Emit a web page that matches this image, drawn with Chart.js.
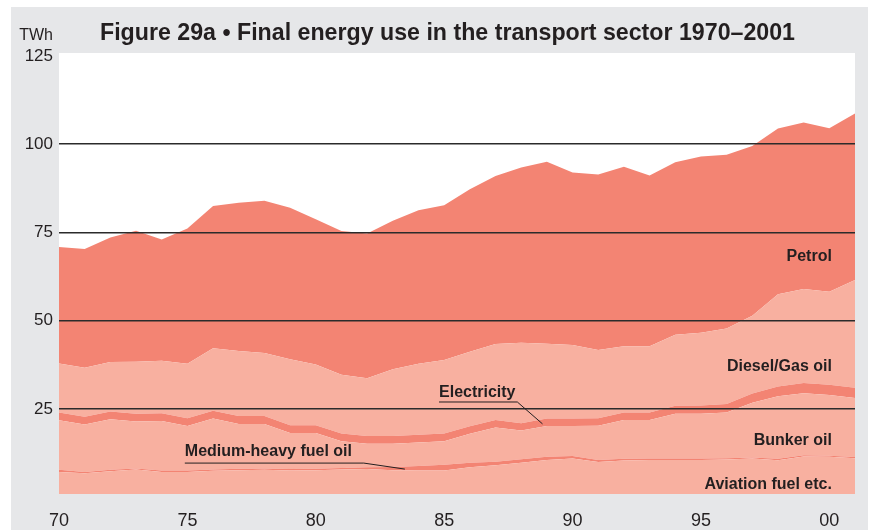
<!DOCTYPE html>
<html lang="en">
<head>
  <meta charset="UTF-8">
  <title>Final energy use in the transport sector 1970–2001</title>
  <script src="https://cdn.jsdelivr.net/npm/chart.js"></script>
  <style>
    body { margin: 0; background: #fff; font-family: "Liberation Sans", Arial, sans-serif; }
    .panel { position: absolute; left: 11px; top: 7px; width: 857px; height: 523px; background: #e6e7e9; }
  </style>
</head>
<body>
  <div class="panel"><canvas id="transportChart" width="857" height="523"></canvas></div>
  <script>
    // TWh per year, stacked bottom to top
    const years = [1970, 1971, 1972, 1973, 1974, 1975, 1976, 1977, 1978, 1979, 1980,
                   1981, 1982, 1983, 1984, 1985, 1986, 1987, 1988, 1989, 1990,
                   1991, 1992, 1993, 1994, 1995, 1996, 1997, 1998, 1999, 2000, 2001];
    const aviation = [7.2, 6.8, 7.4, 7.9, 7.2, 7.2, 7.5, 7.7, 7.8, 7.6, 7.7,
                      7.9, 8.0, 7.7, 7.6, 7.6, 8.5, 9.1, 9.8, 10.6, 11.0,
                      10.0, 10.4, 10.6, 10.6, 10.6, 10.7, 11.0, 10.5, 11.6, 11.5, 11.1];
    const fuelOil = [0.6, 0.4, 0.4, 0.3, 0.4, 0.4, 0.4, 0.4, 0.4, 0.4, 0.4,
                     0.4, 0.5, 0.9, 1.3, 1.6, 1.3, 1.0, 1.0, 0.9, 0.7,
                     0.6, 0.5, 0.4, 0.4, 0.4, 0.4, 0.3, 0.4, 0.3, 0.3, 0.3];
    const bunker = [14.0, 13.4, 14.3, 13.3, 14.0, 12.6, 14.4, 12.7, 12.6, 10.2, 10.1,
                    7.6, 6.7, 6.6, 6.6, 6.7, 8.2, 9.7, 8.1, 8.7, 8.5,
                    9.7, 11.0, 10.9, 12.7, 12.7, 12.9, 15.5, 17.7, 17.6, 17.2, 16.7];
    const electricity = [2.2, 2.2, 2.2, 2.2, 2.2, 2.2, 2.2, 2.2, 2.2, 2.2, 2.2,
                         2.2, 2.2, 2.2, 2.2, 2.2, 2.1, 2.1, 2.1, 2.1, 2.1,
                         2.1, 2.1, 2.1, 2.2, 2.3, 2.4, 2.6, 2.8, 2.9, 2.9, 2.9];
    const diesel = [13.9, 13.9, 14.0, 14.7, 14.9, 15.4, 17.7, 18.4, 17.9, 18.7, 17.2,
                    16.6, 16.3, 18.9, 20.1, 20.8, 21.1, 21.5, 22.8, 21.2, 20.8,
                    19.3, 18.8, 18.8, 20.1, 20.6, 21.4, 22.0, 26.1, 26.6, 26.3, 30.5];
    const petrol = [33.0, 33.6, 35.3, 37.1, 34.3, 38.3, 40.3, 42.0, 43.1, 42.9, 41.1,
                    40.7, 41.0, 42.0, 43.5, 43.8, 46.0, 47.6, 49.6, 51.5, 48.9,
                    49.7, 50.8, 48.3, 48.9, 49.9, 49.2, 48.1, 46.9, 47.1, 46.3, 47.2];

    const yTicks = [25, 50, 75, 100, 125];
    const xTicks = [1970, 1975, 1980, 1985, 1990, 1995, 2000];

    const DARK = '#f38473';
    const LIGHT = '#f8b0a0';
    const INK = '#231f20';

    // label text, anchor year/value, alignment, optional leader line points
    const notes = [
      { text: 'Petrol', x: 2000.1, y: 67.0, align: 'right' },
      { text: 'Diesel/Gas oil', x: 2000.1, y: 35.9, align: 'right' },
      { text: 'Bunker oil', x: 2000.1, y: 14.7, align: 'right' },
      { text: 'Aviation fuel etc.', x: 2000.1, y: 2.4, align: 'right' },
      { text: 'Electricity', x: 1984.8, y: 28.4, align: 'left',
        leader: [[1984.8, 27.0], [1987.85, 27.0], [1988.83, 20.8]] },
      { text: 'Medium-heavy fuel oil', x: 1974.9, y: 11.6, align: 'left',
        leader: [[1974.9, 9.7], [1981.87, 9.7], [1983.47, 8.0]] }
    ];

    const toPoints = arr => years.map((x, i) => ({ x: x, y: arr[i] }));

    const plotBackground = {
      id: 'plotBackground',
      beforeDraw(chart) {
        const { ctx, chartArea: a } = chart;
        ctx.save();
        ctx.fillStyle = '#ffffff';
        ctx.fillRect(a.left, a.top, a.right - a.left, a.bottom - a.top);
        ctx.restore();
      }
    };

    const labels = {
      id: 'labels',
      afterDraw(chart) {
        const { ctx } = chart;
        const xs = chart.scales.x, ys = chart.scales.y;
        ctx.save();
        ctx.fillStyle = INK;
        ctx.textBaseline = 'alphabetic';

        ctx.font = 'bold 23.2px "Liberation Sans", Arial, sans-serif';
        ctx.textAlign = 'left';
        ctx.fillText('Figure 29a • Final energy use in the transport sector 1970–2001', 89, 32.5);

        ctx.font = '16px "Liberation Sans", Arial, sans-serif';
        ctx.textAlign = 'right';
        ctx.fillText('TWh', 42, 33);

        ctx.font = 'bold 16px "Liberation Sans", Arial, sans-serif';
        ctx.strokeStyle = INK;
        ctx.lineWidth = 1;
        notes.forEach(n => {
          ctx.textAlign = n.align;
          ctx.fillText(n.text, xs.getPixelForValue(n.x), ys.getPixelForValue(n.y));
          if (n.leader) {
            ctx.beginPath();
            n.leader.forEach((p, i) => {
              const px = xs.getPixelForValue(p[0]), py = ys.getPixelForValue(p[1]);
              if (i === 0) ctx.moveTo(px, py); else ctx.lineTo(px, py);
            });
            ctx.stroke();
          }
        });
        ctx.restore();
      }
    };

    const series = [
      { label: 'Aviation fuel etc.', data: aviation, color: LIGHT, fill: 'origin' },
      { label: 'Medium-heavy fuel oil', data: fuelOil, color: DARK, fill: '-1' },
      { label: 'Bunker oil', data: bunker, color: LIGHT, fill: '-1' },
      { label: 'Electricity', data: electricity, color: DARK, fill: '-1' },
      { label: 'Diesel/Gas oil', data: diesel, color: LIGHT, fill: '-1' },
      { label: 'Petrol', data: petrol, color: DARK, fill: '-1' }
    ];

    new Chart(document.getElementById('transportChart'), {
      type: 'line',
      data: {
        datasets: series.map(s => ({
          label: s.label,
          data: toPoints(s.data),
          backgroundColor: s.color,
          borderColor: s.color,
          borderWidth: 0,
          pointRadius: 0,
          tension: 0,
          fill: s.fill
        }))
      },
      options: {
        responsive: false,
        animation: false,
        layout: { padding: { top: 46, right: 13, left: 0, bottom: 0 } },
        plugins: { legend: { display: false }, tooltip: { enabled: false } },
        scales: {
          x: {
            type: 'linear',
            min: 1970,
            max: 2001,
            afterBuildTicks: s => { s.ticks = xTicks.map(v => ({ value: v })); },
            afterFit: s => { s.height = 36; },
            grid: { display: false },
            border: { display: false },
            ticks: {
              padding: 8,
              color: INK,
              font: { family: '"Liberation Sans", Arial, sans-serif', size: 18 },
              callback: v => String(v).slice(2)
            }
          },
          y: {
            stacked: true,
            min: 0.95,
            max: 125.8,
            afterBuildTicks: s => { s.ticks = yTicks.map(v => ({ value: v })); },
            afterFit: s => { s.width = 48; },
            border: { display: false },
            grid: {
              z: 1,
              drawTicks: false,
              lineWidth: 1.4,
              color: c => (c.tick && c.tick.value < 125 ? '#2b2b2b' : 'rgba(0,0,0,0)')
            },
            ticks: {
              padding: 6,
              color: INK,
              font: { family: '"Liberation Sans", Arial, sans-serif', size: 17 }
            }
          }
        }
      },
      plugins: [plotBackground, labels]
    });
  </script>
</body>
</html>
